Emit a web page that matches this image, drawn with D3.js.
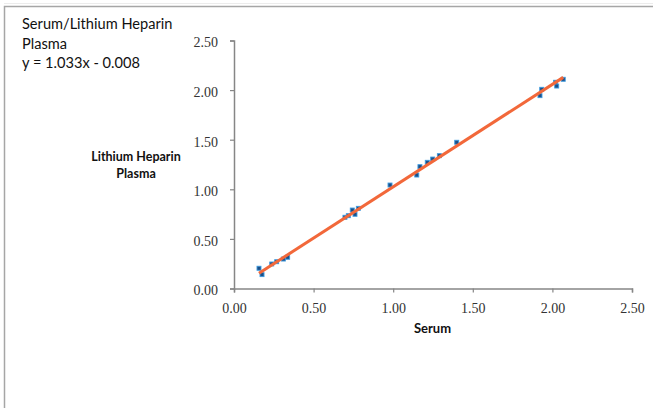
<!DOCTYPE html>
<meta charset="utf-8">
<script src="https://d3js.org/d3.v7.min.js"></script>
<style>
  body { margin: 0; background: #fff; }
</style>
<div id="my_dataviz"></div>
<script>
  // data: serum vs lithium heparin plasma
  var serum  = [0.157, 0.176, 0.237, 0.268, 0.310, 0.337,
                0.697, 0.718, 0.743, 0.760, 0.781, 0.980,
                1.148, 1.168, 1.214, 1.248, 1.290, 1.399,
                1.922, 1.933, 2.020, 2.027, 2.068];
  var plasma = [0.204, 0.140, 0.247, 0.270, 0.297, 0.315,
                0.718, 0.734, 0.791, 0.748, 0.808, 1.043,
                1.144, 1.228, 1.272, 1.305, 1.339, 1.474,
                1.944, 2.008, 2.079, 2.041, 2.109];
  var ticks = [0, 0.5, 1, 1.5, 2, 2.5];
  var slope = 1.033, intercept = -0.008;
  var titleLines = ["Serum/Lithium Heparin", "Plasma", "y = 1.033x - 0.008"];
  var yTitleLines = ["Lithium Heparin", "Plasma"];

  var width = 653, height = 408;

  var svg = d3.select("#my_dataviz")
    .append("svg")
    .attr("width", width)
    .attr("height", height);

  // chart frame (with a faint shadow line above)
  svg.append("line")
    .attr("x1", 4).attr("x2", width)
    .attr("y1", 3.5).attr("y2", 3.5)
    .attr("stroke", "#ececec");
  svg.append("rect")
    .attr("x", 4.5).attr("y", 6.5)
    .attr("width", 700).attr("height", 500)
    .attr("fill", "none")
    .attr("stroke", "#a6a6a6")
    .attr("stroke-width", 1.5);

  var x = d3.scaleLinear().domain([0, 2.5]).range([234, 632]);
  var y = d3.scaleLinear().domain([0, 2.5]).range([288.5, 40.5]);

  // X axis
  var gx = svg.append("g")
    .attr("transform", "translate(0," + y(0) + ")")
    .call(d3.axisBottom(x).tickValues(ticks).tickSize(4).tickPadding(10)
      .tickFormat(d3.format(".2f")));

  // Y axis
  var gy = svg.append("g")
    .attr("transform", "translate(" + x(0) + ",0)")
    .call(d3.axisLeft(y).tickValues(ticks).tickSize(4).tickPadding(12)
      .tickFormat(d3.format(".2f")));

  [gx, gy].forEach(function (g) {
    g.select(".domain").attr("stroke", "#868686").attr("stroke-width", 1.5);
    g.selectAll(".tick line").attr("stroke", "#868686").attr("stroke-width", 1.2);
    g.selectAll(".tick text")
      .attr("fill", "#333")
      .style("font-family", "'Liberation Serif', serif")
      .style("font-size", "14px");
  });
  gy.selectAll(".tick text").attr("dy", "0.45em");
  gx.selectAll(".tick text").attr("dy", "0.75em");

  // title / equation
  svg.append("text")
    .style("font-family", "Lato, sans-serif")
    .style("font-size", "14.6px")
    .attr("fill", "#111")
    .selectAll("tspan")
    .data(titleLines)
    .enter()
    .append("tspan")
    .attr("x", 22)
    .attr("y", function (d, i) { return 29 + i * 19.7; })
    .text(function (d) { return d; });

  // Y axis label
  svg.append("text")
    .attr("text-anchor", "middle")
    .style("font-family", "Lato, sans-serif")
    .style("font-size", "12.5px")
    .style("font-weight", "bold")
    .attr("fill", "#111")
    .selectAll("tspan")
    .data(yTitleLines)
    .enter()
    .append("tspan")
    .attr("x", 136)
    .attr("y", function (d, i) { return 161 + i * 17; })
    .text(function (d) { return d; });

  // X axis label
  svg.append("text")
    .attr("text-anchor", "middle")
    .attr("x", 432.5)
    .attr("y", 333)
    .style("font-family", "Lato, sans-serif")
    .style("font-size", "13px")
    .style("font-weight", "bold")
    .attr("fill", "#111")
    .text("Serum");

  var data = serum.map(function (d, i) { return { x: d, y: plasma[i] }; });

  // the points
  svg.append("g")
    .selectAll("rect")
    .data(data)
    .enter()
    .append("rect")
    .attr("x", function (d) { return x(d.x) - 2; })
    .attr("y", function (d) { return y(d.y) - 2; })
    .attr("width", 4)
    .attr("height", 4)
    .attr("fill", "#1d4f86")
    .attr("stroke", "#3d9be0")
    .attr("stroke-width", 0.9);

  // trend line
  var xr = d3.extent(serum);
  svg.append("path")
    .datum(xr)
    .attr("fill", "none")
    .attr("stroke", "#f2683a")
    .attr("stroke-width", 3)
    .attr("d", d3.line()
      .x(function (d) { return x(d); })
      .y(function (d) { return y(slope * d + intercept); }));
</script>
